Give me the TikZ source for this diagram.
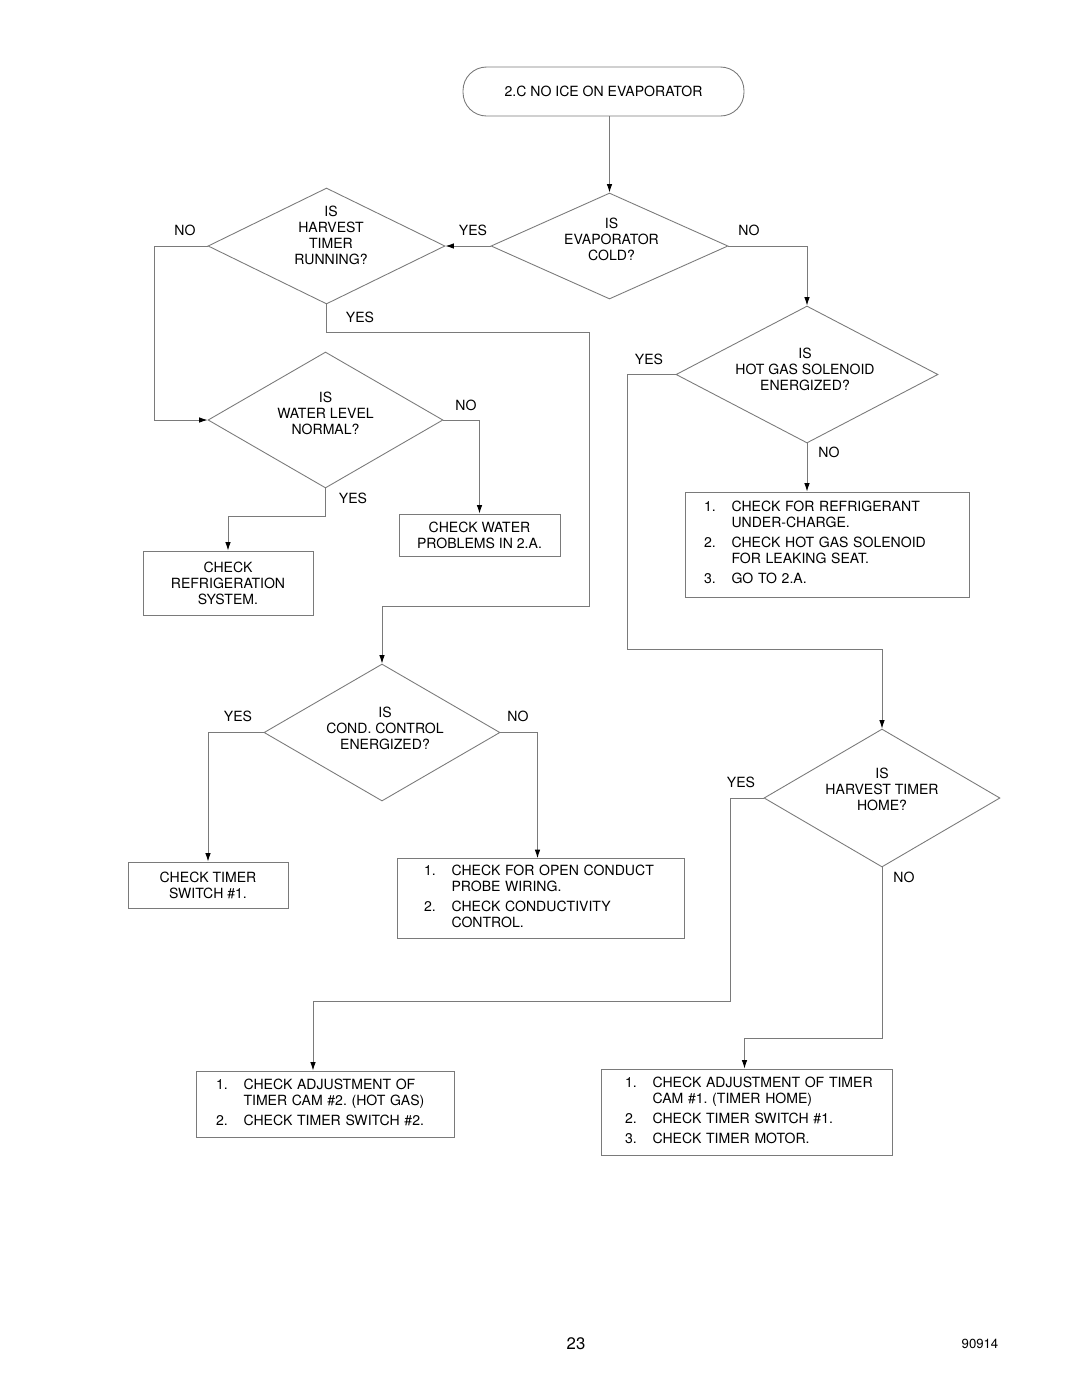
\documentclass[tikz,border=0pt]{standalone}
\usepackage{fontspec}
\setmainfont{TeX Gyre Heros}
\usetikzlibrary{shapes.geometric, arrows.meta, positioning, calc}
\usepackage{xcolor}
\frenchspacing

\begin{document}
\begin{tikzpicture}[
    >={Latex[length=1.7mm,width=1.1mm,color=black]},
    x=0.02cm, y=-0.02cm,
    font=\fontsize{8}{9.1}\selectfont
]

\definecolor{linecol}{HTML}{7A7A7A}

\tikzset{
    startbox/.style={
        rectangle,
        rounded corners=0.47cm,
        draw=linecol,
        line width=0.5pt,
        minimum width=5.62cm,
        minimum height=0.98cm
    },
    decision/.style={
        diamond,
        draw=linecol,
        line width=0.5pt,
        shape aspect=2,
        inner sep=0pt
    },
    dtext/.style={
        align=center,
        inner sep=0pt
    },
    process/.style={
        rectangle,
        draw=linecol,
        line width=0.5pt,
        align=center
    },
    listbox/.style={
        rectangle,
        draw=linecol,
        line width=0.5pt,
        align=left
    },
    arr/.style={
        ->,
        draw=linecol,
        line width=0.5pt
    },
    lbl/.style={
        inner sep=0pt
    }
}

\path[fill=white, use as bounding box] (0,0) rectangle (1080,1397);

% Nodes
\node[startbox] (start) at (603.5,91.5) {2.C NO ICE ON EVAPORATOR};

\node[decision, minimum width=4.74cm, minimum height=2.12cm,
      label={[dtext, yshift=0.13cm, xshift=0.04cm]center:IS\\EVAPORATOR\\COLD?}] (evap) at (609.5,246) {};
\node[decision, minimum width=4.74cm, minimum height=2.32cm,
      label={[dtext, yshift=0.21cm, xshift=0.09cm]center:IS\\HARVEST\\TIMER\\RUNNING?}] (hrun) at (326.5,246) {};
\node[decision, minimum width=4.70cm, minimum height=2.72cm,
      label={[dtext, yshift=0.14cm]center:IS\\WATER LEVEL\\NORMAL?}] (water) at (325.5,420) {};
\node[decision, minimum width=5.24cm, minimum height=2.74cm,
      label={[dtext, yshift=0.10cm, xshift=-0.04cm]center:IS\\HOT GAS SOLENOID\\ENERGIZED?}] (hgs) at (807,374.5) {};
\node[decision, minimum width=4.72cm, minimum height=2.74cm,
      label={[dtext, yshift=0.08cm, xshift=0.06cm]center:IS\\COND. CONTROL\\ENERGIZED?}] (cond) at (382,732.5) {};
\node[decision, minimum width=4.72cm, minimum height=2.76cm,
      label={[dtext, yshift=0.18cm]center:IS\\HARVEST TIMER\\HOME?}] (home) at (882,798) {};

\node[process, minimum width=3.22cm, minimum height=0.84cm] (chkwater) at (479.5,535) {CHECK WATER\\PROBLEMS IN 2.A.};
\node[process, minimum width=3.40cm, minimum height=1.28cm] (chkref) at (228,583) {CHECK\\REFRIGERATION\\SYSTEM.};
\node[process, minimum width=3.20cm, minimum height=0.92cm] (chksw) at (208,885) {CHECK TIMER\\SWITCH \#1.};

\node[listbox, text width=4.92cm, inner xsep=0.38cm, minimum height=2.10cm] (chkgas) at (827,544.5) {%
\begin{tabular}{@{}p{0.55cm}@{}l@{}}
1. & CHECK FOR REFRIGERANT\\
   & UNDER-CHARGE.\\[2.3pt]
2. & CHECK HOT GAS SOLENOID\\
   & FOR LEAKING SEAT.\\[2.3pt]
3. & GO TO 2.A.
\end{tabular}};

\node[listbox, text width=4.66cm, inner xsep=0.54cm, minimum height=1.58cm] (chkcond) at (540.5,898.5) {%
\begin{tabular}{@{}p{0.55cm}@{}l@{}}
1. & CHECK FOR OPEN CONDUCT\\
   & PROBE WIRING.\\[2.3pt]
2. & CHECK CONDUCTIVITY\\
   & CONTROL.
\end{tabular}};

\node[listbox, text width=4.36cm, inner xsep=0.40cm, minimum height=1.32cm] (chkcam2) at (325,1104) {%
\begin{tabular}{@{}p{0.55cm}@{}l@{}}
1. & CHECK ADJUSTMENT OF\\
   & TIMER CAM \#2. (HOT GAS)\\[2.3pt]
2. & CHECK TIMER SWITCH \#2.
\end{tabular}};

\node[listbox, text width=4.86cm, inner xsep=0.48cm, minimum height=1.72cm] (chkcam1) at (746.5,1112) {%
\begin{tabular}{@{}p{0.55cm}@{}l@{}}
1. & CHECK ADJUSTMENT OF TIMER\\
   & CAM \#1. (TIMER HOME)\\[2.3pt]
2. & CHECK TIMER SWITCH \#1.\\[2.3pt]
3. & CHECK TIMER MOTOR.
\end{tabular}};

% Branch labels
\node[lbl] at (185,230) {NO};
\node[lbl] at (473,230) {YES};
\node[lbl] at (749,230) {NO};
\node[lbl] at (360,317) {YES};
\node[lbl] at (649,359) {YES};
\node[lbl] at (466,405) {NO};
\node[lbl] at (829,452) {NO};
\node[lbl] at (353,498) {YES};
\node[lbl] at (238,716) {YES};
\node[lbl] at (518,716) {NO};
\node[lbl] at (741,782) {YES};
\node[lbl] at (904,877) {NO};

% Page footer
\node[lbl, font=\fontsize{9.5}{11}\selectfont] (pagenum) at (576,1344) {23};
\node[lbl, font=\fontsize{7.5}{9}\selectfont] (docnum) at (980,1344) {90914};

% Edges from the top
\draw[arr] (start.south -| evap.north) -- (evap.north);
\draw[arr] (evap.west) -- (hrun.east);
\draw[arr] (evap.east) -| (hgs.north);

% Edges from harvest timer running
\draw[arr] (hrun.west) -- ++(-53,0) |- (water.west);
\draw[arr] (hrun.south) -- ++(0,28) -| (589,606) -| (cond.north);

% Edges from water level
\draw[arr] (water.east) -| (chkwater.north);
\draw[arr] (water.south) -- ++(0,28) -| (chkref.north);

% Edges from hot gas solenoid
\draw[arr] (hgs.south) -- (hgs.south |- chkgas.north);
\draw[arr] (hgs.west) -| (627,649) -| (home.north);

% Edges from cond. control
\draw[arr] (cond.west) -| (chksw.north);
\draw[arr] (cond.east) -| ($(chkcond.north)+(-3,0)$);

% Edges from harvest timer home
\draw[arr] (home.west) -| (730,1001) -| ($(chkcam2.north)+(-12,0)$);
\draw[arr] (home.south) -- ++(0,171) -| ($(chkcam1.north)+(-2,0)$);

\end{tikzpicture}
\end{document}
